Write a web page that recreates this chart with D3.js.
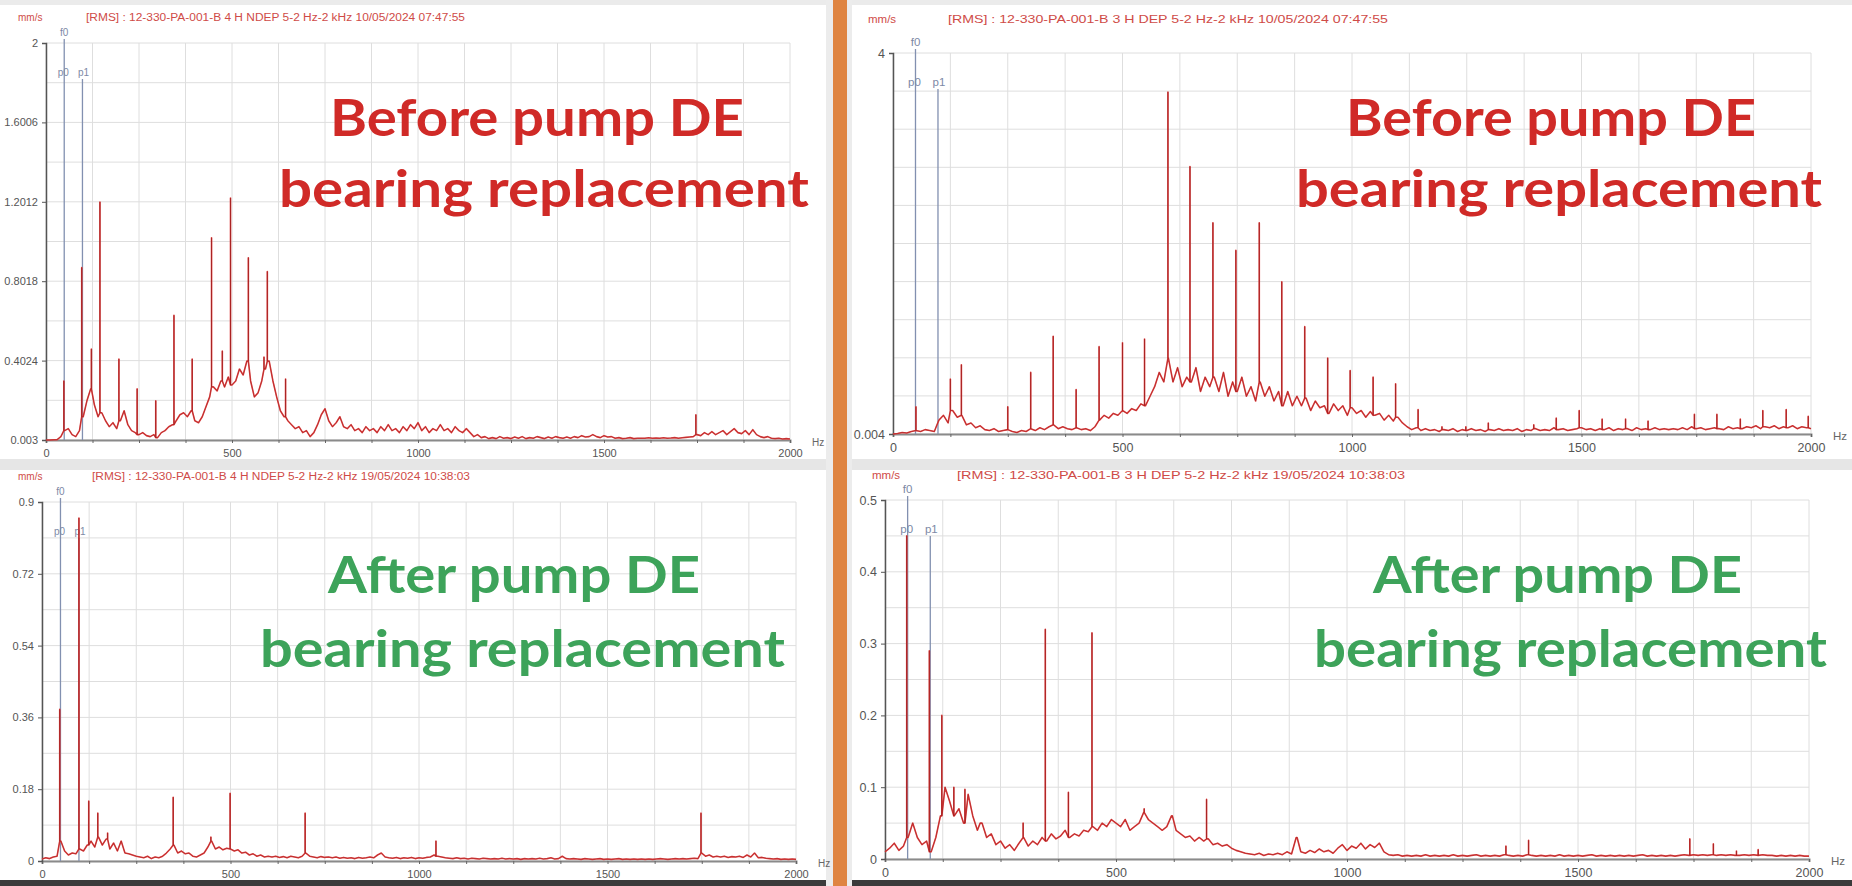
<!DOCTYPE html>
<html>
<head>
<meta charset="utf-8">
<script src="https://cdn.jsdelivr.net/npm/d3@7"></script>
<style>
html, body { margin: 0; padding: 0; background: #fff; overflow: hidden; }
svg { display: block; }
</style>
</head>
<body>
<div id="vis"></div>
<script>
// ---- data (mm/s RMS, 10 Hz steps 0..2000) ----
const freqStep = 10;

const tlFloor = [
  0.003,0.003,0.004,0.005,0.02,0.05,0.06,0.03,0.02,0.05, 0.12,0.2,0.26,0.18,0.12,0.14,0.1,0.07,0.09,0.06,
  0.1,0.15,0.08,0.05,0.04,0.03,0.04,0.025,0.02,0.03, 0.015,0.04,0.05,0.07,0.08,0.1,0.13,0.14,0.12,0.15,
  0.1,0.09,0.12,0.17,0.22,0.27,0.25,0.3,0.27,0.32, 0.28,0.3,0.36,0.33,0.4,0.3,0.22,0.24,0.3,0.36,
  0.4,0.3,0.22,0.15,0.12,0.1,0.08,0.06,0.07,0.04, 0.05,0.02,0.04,0.08,0.13,0.16,0.1,0.07,0.09,0.12,
  0.07,0.06,0.08,0.05,0.06,0.04,0.07,0.05,0.06,0.04, 0.07,0.05,0.08,0.05,0.06,0.04,0.07,0.05,0.08,0.06,
  0.09,0.05,0.07,0.04,0.06,0.05,0.08,0.05,0.06,0.04, 0.07,0.05,0.04,0.06,0.04,0.02,0.03,0.015,0.02,0.01,
  0.015,0.01,0.02,0.012,0.015,0.01,0.018,0.012,0.02,0.01, 0.015,0.012,0.02,0.015,0.01,0.018,0.012,0.02,0.015,0.012,
  0.018,0.012,0.02,0.015,0.025,0.018,0.02,0.03,0.02,0.015, 0.025,0.018,0.02,0.012,0.015,0.01,0.012,0.015,0.01,0.012,
  0.012,0.012,0.014,0.012,0.013,0.012,0.014,0.012,0.013,0.015, 0.012,0.014,0.016,0.018,0.02,0.03,0.025,0.04,0.03,0.045,
  0.03,0.04,0.05,0.03,0.045,0.06,0.04,0.035,0.05,0.03, 0.055,0.03,0.02,0.015,0.02,0.012,0.01,0.012,0.008,0.01,
  0.008
];
const tlPeaks = [
  [48, 0.30], [96, 0.87], [122, 0.46], [145, 1.20], [196, 0.41], [245, 0.26], [295, 0.20],
  [344, 0.63], [393, 0.41], [445, 1.02], [474, 0.45], [496, 1.22], [544, 0.92], [586, 0.42],
  [595, 0.85], [644, 0.31], [1747, 0.13]
];

const trFloor = [
  0.004,0.01,0.02,0.015,0.03,0.04,0.03,0.05,0.04,0.03, 0.15,0.2,0.12,0.25,0.18,0.2,0.1,0.12,0.07,0.09,
  0.05,0.04,0.06,0.03,0.04,0.05,0.03,0.02,0.04,0.03, 0.06,0.04,0.07,0.05,0.08,0.1,0.06,0.08,0.06,0.05,
  0.07,0.05,0.06,0.04,0.08,0.15,0.2,0.17,0.22,0.2, 0.25,0.22,0.27,0.25,0.32,0.3,0.4,0.5,0.65,0.55,
  0.8,0.55,0.7,0.5,0.6,0.55,0.7,0.45,0.6,0.5, 0.6,0.45,0.65,0.4,0.55,0.45,0.6,0.4,0.5,0.35,
  0.55,0.4,0.5,0.35,0.45,0.3,0.45,0.3,0.4,0.3, 0.38,0.25,0.35,0.28,0.3,0.22,0.32,0.25,0.3,0.2,
  0.28,0.22,0.25,0.18,0.24,0.2,0.22,0.15,0.2,0.14, 0.18,0.12,0.08,0.05,0.07,0.04,0.06,0.04,0.05,0.03,
  0.05,0.04,0.06,0.03,0.05,0.04,0.06,0.04,0.05,0.03, 0.05,0.04,0.06,0.04,0.05,0.04,0.06,0.03,0.05,0.04,
  0.06,0.04,0.05,0.04,0.07,0.05,0.06,0.04,0.05,0.06, 0.07,0.05,0.06,0.04,0.06,0.05,0.07,0.04,0.06,0.05,
  0.06,0.04,0.07,0.05,0.06,0.05,0.07,0.05,0.06,0.05, 0.06,0.05,0.07,0.05,0.08,0.06,0.07,0.05,0.06,0.07,
  0.06,0.05,0.08,0.06,0.07,0.06,0.08,0.07,0.09,0.06, 0.08,0.07,0.09,0.06,0.08,0.07,0.09,0.06,0.08,0.07,
  0.06
];
const trPeaks = [
  [50, 0.29], [125, 0.58], [149, 0.73], [250, 0.29], [300, 0.65], [349, 1.03], [399, 0.47],
  [449, 0.92], [500, 0.96], [548, 1.0], [599, 3.59], [647, 2.81], [697, 2.22], [747, 1.93],
  [798, 2.22], [847, 1.6], [897, 1.13], [947, 0.8], [996, 0.67], [1046, 0.6], [1095, 0.53],
  [1144, 0.26], [1196, 0.08], [1248, 0.08], [1297, 0.12], [1396, 0.1], [1445, 0.17], [1495, 0.25],
  [1545, 0.16], [1596, 0.16], [1645, 0.14], [1746, 0.21], [1795, 0.21], [1846, 0.16],
  [1895, 0.25], [1946, 0.26], [1994, 0.19]
];

const blFloor = [
  0.005,0.008,0.006,0.01,0.012,0.05,0.025,0.015,0.02,0.018, 0.03,0.025,0.04,0.05,0.035,0.06,0.04,0.055,0.03,0.045,
  0.025,0.05,0.02,0.018,0.015,0.012,0.01,0.008,0.012,0.006, 0.01,0.008,0.012,0.02,0.03,0.04,0.02,0.025,0.018,0.02,
  0.012,0.01,0.015,0.02,0.035,0.05,0.03,0.035,0.028,0.032, 0.03,0.025,0.028,0.02,0.022,0.015,0.018,0.012,0.015,0.01,
  0.012,0.01,0.012,0.009,0.011,0.008,0.012,0.01,0.008,0.012, 0.02,0.012,0.01,0.008,0.011,0.009,0.01,0.008,0.01,0.007,
  0.009,0.007,0.008,0.006,0.009,0.007,0.008,0.01,0.008,0.015, 0.02,0.01,0.008,0.007,0.009,0.006,0.008,0.007,0.009,0.006,
  0.008,0.007,0.009,0.01,0.015,0.012,0.01,0.008,0.007,0.006, 0.008,0.006,0.007,0.005,0.007,0.006,0.005,0.007,0.006,0.005,
  0.006,0.005,0.007,0.005,0.006,0.005,0.006,0.004,0.006,0.005, 0.006,0.005,0.007,0.005,0.006,0.008,0.005,0.006,0.012,0.006,
  0.005,0.006,0.005,0.004,0.006,0.005,0.004,0.005,0.006,0.004, 0.005,0.004,0.005,0.006,0.004,0.005,0.004,0.005,0.004,0.005,
  0.004,0.005,0.004,0.005,0.006,0.005,0.004,0.005,0.006,0.005, 0.006,0.005,0.006,0.007,0.006,0.02,0.012,0.015,0.01,0.012,
  0.01,0.012,0.009,0.011,0.01,0.012,0.009,0.015,0.01,0.02, 0.008,0.009,0.007,0.006,0.005,0.006,0.004,0.005,0.004,0.005,
  0.004
];
const blPeaks = [
  [47, 0.38], [98, 0.86], [124, 0.15], [148, 0.12], [174, 0.07], [210, 0.05], [348, 0.16],
  [448, 0.06], [499, 0.17], [698, 0.12], [1045, 0.05], [1748, 0.12]
];

const brFloor = [
  0.01,0.015,0.022,0.012,0.018,0.03,0.05,0.03,0.02,0.025, 0.01,0.03,0.06,0.1,0.08,0.06,0.07,0.05,0.09,0.06,
  0.04,0.05,0.03,0.035,0.02,0.025,0.015,0.02,0.012,0.022, 0.03,0.018,0.025,0.02,0.03,0.025,0.035,0.028,0.032,0.04,
  0.03,0.035,0.032,0.04,0.038,0.045,0.04,0.05,0.045,0.055, 0.05,0.045,0.055,0.04,0.045,0.05,0.065,0.055,0.05,0.045,
  0.04,0.045,0.06,0.04,0.035,0.03,0.032,0.025,0.03,0.025, 0.028,0.02,0.022,0.018,0.02,0.015,0.012,0.01,0.008,0.007,
  0.006,0.008,0.005,0.007,0.006,0.008,0.006,0.01,0.007,0.03, 0.01,0.008,0.012,0.009,0.014,0.01,0.012,0.008,0.015,0.02,
  0.012,0.018,0.015,0.022,0.014,0.02,0.016,0.022,0.01,0.006, 0.005,0.006,0.004,0.005,0.004,0.005,0.004,0.006,0.004,0.005,
  0.004,0.005,0.004,0.006,0.004,0.005,0.004,0.005,0.006,0.004, 0.005,0.004,0.005,0.004,0.006,0.005,0.004,0.005,0.004,0.006,
  0.005,0.004,0.005,0.004,0.005,0.004,0.006,0.004,0.005,0.004, 0.005,0.004,0.005,0.006,0.004,0.005,0.004,0.005,0.004,0.005,
  0.004,0.005,0.004,0.005,0.006,0.004,0.005,0.004,0.005,0.004, 0.005,0.004,0.005,0.006,0.005,0.006,0.005,0.006,0.005,0.006,
  0.005,0.006,0.005,0.006,0.005,0.005,0.006,0.005,0.006,0.005, 0.006,0.005,0.005,0.004,0.005,0.004,0.005,0.004,0.005,0.004,
  0.004
];
const brPeaks = [
  [47, 0.45], [96, 0.29], [123, 0.2], [149, 0.1], [173, 0.097], [206, 0.05], [299, 0.05],
  [347, 0.32], [397, 0.093], [448, 0.315], [561, 0.07], [622, 0.06], [696, 0.083], [892, 0.03],
  [1344, 0.018], [1393, 0.026], [1742, 0.028], [1793, 0.021], [1843, 0.011], [1890, 0.013]
];

const tlTicks = ['2', '1.6006', '1.2012', '0.8018', '0.4024', '0.003'];
const trTicks = ['4', '0.004'];
const blTicks = ['0.9', '0.72', '0.54', '0.36', '0.18', '0'];
const brTicks = ['0.5', '0.4', '0.3', '0.2', '0.1', '0'];
const xTickLabels = ['0', '500', '1000', '1500', '2000'];

const markerNames = ['f0', 'p0', 'p1'];
const markerFreqs = [49, 49, 98];

const titles = [
  '[RMS] : 12-330-PA-001-B 4 H NDEP 5-2 Hz-2 kHz 10/05/2024 07:47:55',
  '[RMS] : 12-330-PA-001-B 3 H DEP 5-2 Hz-2 kHz 10/05/2024 07:47:55',
  '[RMS] : 12-330-PA-001-B 4 H NDEP 5-2 Hz-2 kHz 19/05/2024 10:38:03',
  '[RMS] : 12-330-PA-001-B 3 H DEP 5-2 Hz-2 kHz 19/05/2024 10:38:03'
];
const noteBefore = ['Before pump DE', 'bearing replacement'];
const noteAfter = ['After pump DE', 'bearing replacement'];

// ---- page ----
const W = 1852, H = 886;
const svg = d3.select('#vis').append('svg').attr('width', W).attr('height', H);

svg.append('rect').attr('width', W).attr('height', H).attr('fill', '#fff');
svg.append('rect').attr('x', 0).attr('y', 0).attr('width', W).attr('height', 5).attr('fill', '#ebebeb');
svg.append('rect').attr('x', 0).attr('y', 459).attr('width', W).attr('height', 11).attr('fill', '#e6e6e6');
svg.append('rect').attr('x', 0).attr('y', 880).attr('width', W).attr('height', 6).attr('fill', '#3b3b3b');
svg.append('rect').attr('x', 826).attr('y', 0).attr('width', 26).attr('height', H).attr('fill', '#ececec');
svg.append('rect').attr('x', 833).attr('y', 0).attr('width', 14).attr('height', H).attr('fill', '#df8441');

const panels = [
  { floor: tlFloor, peaks: tlPeaks, ticks: tlTicks, yDomain: [0.003, 2], title: titles[0],
    note: noteBefore, noteColor: '#d02a27', x0: 46, x1: 790, yTop: 43, yBot: 440, fs: 10,
    unitX: 18, titleX: 86, titleW: 379, titleY: 21, noteX: [330, 279], noteW: [414, 530], noteY: [136, 207] },
  { floor: trFloor, peaks: trPeaks, ticks: trTicks, yDomain: [0.004, 4], title: titles[1],
    note: noteBefore, noteColor: '#d02a27', x0: 893, x1: 1811, yTop: 53, yBot: 434, fs: 11.5,
    unitX: 868, titleX: 948, titleW: 440, titleY: 23, noteX: [1346, 1296], noteW: [410, 526], noteY: [136, 207] },
  { floor: blFloor, peaks: blPeaks, ticks: blTicks, yDomain: [0, 0.9], title: titles[2],
    note: noteAfter, noteColor: '#3da35a', x0: 42, x1: 796, yTop: 502, yBot: 861, fs: 10,
    unitX: 18, titleX: 92, titleW: 378, titleY: 480, noteX: [328, 260], noteW: [372, 525], noteY: [593, 667] },
  { floor: brFloor, peaks: brPeaks, ticks: brTicks, yDomain: [0, 0.5], title: titles[3],
    note: noteAfter, noteColor: '#3da35a', x0: 885, x1: 1809, yTop: 500, yBot: 859, fs: 11.5,
    unitX: 872, titleX: 957, titleW: 448, titleY: 479, noteX: [1373, 1314], noteW: [369, 513], noteY: [593, 667] }
];

const textRed = '#cf4b47';
const axisGrey = '#555';

panels.forEach(drawPanel);

function drawPanel(p) {
  const g = svg.append('g');
  const x = d3.scaleLinear().domain([0, 2000]).range([p.x0, p.x1]);
  const y = d3.scaleLinear().domain(p.yDomain).range([p.yBot, p.yTop]);

  // header
  g.append('text').attr('x', p.unitX).attr('y', p.titleY)
    .attr('font-family', 'Liberation Sans Narrow, Liberation Sans, Arial, sans-serif')
    .attr('font-size', p.fs).attr('fill', textRed).text('mm/s');
  g.append('text').attr('x', p.titleX).attr('y', p.titleY)
    .attr('font-family', 'Liberation Sans Narrow, Liberation Sans, Arial, sans-serif')
    .attr('font-size', p.fs).attr('fill', textRed)
    .attr('textLength', p.titleW).attr('lengthAdjust', 'spacingAndGlyphs')
    .text(p.title);

  // grid
  const xGrid = d3.range(0, 2001, 125);
  const ySpan = p.yDomain[1] - p.yDomain[0];
  const yGrid = d3.range(11).map(i => p.yDomain[0] + i * ySpan / 10);

  g.append('g').selectAll('line').data(xGrid).join('line')
    .attr('x1', d => x(d)).attr('x2', d => x(d))
    .attr('y1', p.yTop).attr('y2', p.yBot)
    .attr('stroke', '#dedede').attr('stroke-width', 1);
  g.append('g').selectAll('line').data(yGrid).join('line')
    .attr('x1', p.x0).attr('x2', p.x1)
    .attr('y1', d => y(d)).attr('y2', d => y(d))
    .attr('stroke', '#dedede').attr('stroke-width', 1);

  // axes
  const xAxis = g.append('g')
    .attr('transform', `translate(0,${p.yBot})`)
    .call(d3.axisBottom(x).tickValues(xGrid).tickSize(3).tickPadding(6)
      .tickFormat(d => xTickLabels.includes(String(d)) ? String(d) : ''));
  xAxis.select('.domain').attr('stroke', '#8a8a8a').attr('stroke-width', 2);
  xAxis.selectAll('.tick line').attr('stroke', '#666');
  xAxis.selectAll('.tick text').attr('fill', axisGrey).attr('font-size', p.fs + 1)
    .attr('font-family', 'Liberation Sans Narrow, Liberation Sans, Arial, sans-serif');

  const tickVals = p.ticks.map(t => +t);
  const yAxis = g.append('g')
    .attr('transform', `translate(${p.x0},0)`)
    .call(d3.axisLeft(y).tickValues(tickVals).tickSize(4).tickPadding(4)
      .tickFormat((d, i) => p.ticks[i]));
  yAxis.select('.domain').attr('stroke', '#555').attr('stroke-width', 1.5);
  yAxis.selectAll('.tick line').attr('stroke', '#555');
  yAxis.selectAll('.tick text').attr('fill', axisGrey).attr('font-size', p.fs + 1)
    .attr('font-family', 'Liberation Sans Narrow, Liberation Sans, Arial, sans-serif');

  g.append('text').attr('x', p.x1 + 22).attr('y', p.yBot + 6)
    .attr('font-family', 'Liberation Sans Narrow, Liberation Sans, Arial, sans-serif')
    .attr('font-size', p.fs).attr('fill', '#666').text('Hz');

  // order markers (f0 / p0 / p1)
  const mg = g.append('g');
  markerNames.forEach((name, i) => {
    const mx = x(markerFreqs[i]);
    if (name === 'f0') {
      mg.append('line').attr('x1', mx).attr('x2', mx).attr('y1', p.yTop - 4).attr('y2', p.yBot)
        .attr('stroke', '#8290b0').attr('stroke-width', 1.3);
      mg.append('text').attr('x', mx).attr('y', p.yTop - 7).attr('text-anchor', 'middle')
        .attr('font-family', 'Liberation Sans, Arial, sans-serif').attr('font-size', p.fs)
        .attr('fill', '#7d89a6').text(name);
    } else {
      if (name === 'p1') {
        mg.append('line').attr('x1', mx).attr('x2', mx).attr('y1', p.yTop + 36).attr('y2', p.yBot)
          .attr('stroke', '#8290b0').attr('stroke-width', 1.3);
      }
      mg.append('text').attr('x', mx + (name === 'p0' ? -1 : 1)).attr('y', p.yTop + 33)
        .attr('text-anchor', 'middle')
        .attr('font-family', 'Liberation Sans, Arial, sans-serif').attr('font-size', p.fs)
        .attr('fill', '#7d89a6').text(name);
    }
  });

  // spectrum: floor samples with the discrete peaks spliced in as spikes
  const pts = p.floor.map((v, i) => [i * freqStep, v]);
  p.peaks.forEach(([hz, amp]) => {
    const base = p.floor[Math.round(hz / freqStep)];
    pts.push([hz - 0.01, base], [hz, amp], [hz + 0.01, base]);
  });
  pts.sort((a, b) => a[0] - b[0]);

  const line = d3.line()
    .x(d => x(d[0]))
    .y(d => y(Math.max(d[1], p.yDomain[0])));

  g.append('path').datum(pts).attr('d', line)
    .attr('fill', 'none').attr('stroke', '#e04444').attr('stroke-width', 1.6)
    .attr('stroke-linejoin', 'round');
  g.append('path').datum(pts).attr('d', line)
    .attr('fill', 'none').attr('stroke', '#8e1414').attr('stroke-width', 0.6)
    .attr('stroke-opacity', 0.7);

  // slide annotation
  p.note.forEach((txt, i) => {
    g.append('text').attr('x', p.noteX[i]).attr('y', p.noteY[i])
      .attr('font-family', 'Lato, Open Sans, sans-serif').attr('font-weight', 700)
      .attr('font-size', 51).attr('fill', p.noteColor)
      .attr('textLength', p.noteW[i]).attr('lengthAdjust', 'spacingAndGlyphs')
      .text(txt);
  });
}
</script>
</body>
</html>
